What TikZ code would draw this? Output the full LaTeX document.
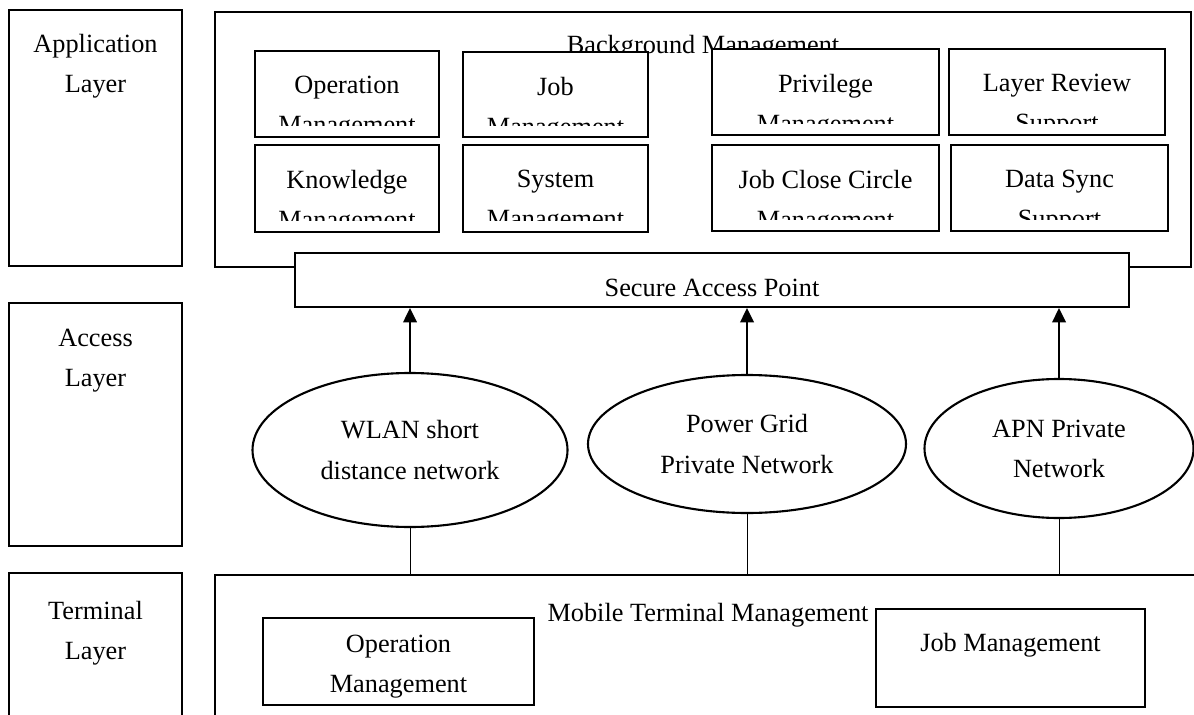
\documentclass[tikz,border=0pt]{standalone}
\usepackage{fontspec}
\setmainfont{Liberation Serif}
\usetikzlibrary{shapes.geometric}
\usetikzlibrary{positioning}
\usetikzlibrary{calc}
\usetikzlibrary{arrows.meta}
\newcommand{\px}{0.025cm}
\tikzset{every picture/.style={line width=1.5pt},
  every node/.style={font=\fontsize{18.7pt}{28.5pt}\selectfont,align=center,inner sep=0pt},
  framebox/.style={draw,fill=white},
  netellipse/.style={draw,ellipse,fill=white},
  uparrow/.style={-{Triangle[length=0.36cm,width=0.34cm]},line width=1.5pt},
  thinline/.style={line width=0.7pt}}

\begin{document}
\begin{tikzpicture}[x=\px,y=-\px]
\useasboundingbox (0,0) rectangle (1194,715);

% layer column
\node (applayer) [framebox,minimum width=173*\px,minimum height=256*\px] at (95.5,138) {};
\node (applbl) at ($(applayer.north)+(0,57)$) {Application\\Layer};
\node (acclayer) [framebox,minimum width=173*\px,minimum height=243*\px] at (95.5,424.5) {};
\node (acclbl) at ($(acclayer.north)+(0,59)$) {Access\\Layer};
\node (termlayer) [framebox,minimum width=173*\px,minimum height=167*\px] at (95.5,656.5) {};
\node (termlbl) at ($(termlayer.north)+(0,61)$) {Terminal\\Layer};

% background management
\node (bgbox) [framebox,minimum width=976*\px,minimum height=255*\px] at (703,139.5) {};
\node (bgtitle) at (703,47) {Background Management};
\foreach \name/\cx/\cy/\w/\h/\ta/\tb in {
  opmgmt/347/94/184/86/Operation/Management,
  jobmgmt/555.5/94.5/185/85/Job/Management,
  privmgmt/825.5/92/227/86/Privilege/Management,
  reviewsup/1057/92/216/86/Layer Review/Support,
  knowmgmt/347/188.5/184/87/Knowledge/Management,
  sysmgmt/555.5/188.5/185/87/System/Management,
  closemgmt/825.5/188/227/86/Job Close Circle/Management,
  syncsup/1059.5/188/217/86/Data Sync/Support} {
\node (\name) [framebox,minimum width=\w*\px,minimum height=\h*\px] at (\cx,\cy) {};
\begin{scope}
\clip (\name.north west) rectangle ($(\name.south east)+(0,-13)$);
\node (\name lbl) at ($(\name.north)+(0,58)$) {\ta\\\tb};
\end{scope}
}

% access
\node (sap) [framebox,minimum width=834*\px,minimum height=54*\px] at (712,280) {};
\node (saplbl) at (712,288) {Secure Access Point};
\node (wlan) [netellipse,minimum width=315*\px,minimum height=154*\px] at (410,450) {WLAN short\\distance network};
\node (powergrid) [netellipse,minimum width=318*\px,minimum height=138*\px] at (747,444) {Power Grid\\Private Network};
\node (apn) [netellipse,minimum width=269*\px,minimum height=139*\px] at (1059,448.5) {APN Private\\Network};

% terminal
\node (mtbox) [framebox,minimum width=1000*\px,minimum height=165*\px] at (715,657.5) {};
\node (mttitle) at (708,615) {Mobile Terminal Management};
\node (topmgmt) [framebox,minimum width=271*\px,minimum height=87*\px] at (398.5,661.5) {};
\node (topmgmtlbl) at ($(topmgmt.center)+(0,5)$) {Operation\\Management};
\node (tjobmgmt) [framebox,minimum width=269*\px,minimum height=98*\px] at (1010.5,658) {};
\node (tjoblbl) at ($(tjobmgmt.north)+(0,37)$) {Job Management};

% connectors
\foreach \net in {wlan,powergrid,apn} {
\draw [uparrow] (\net.north) -- (\net.north |- sap.south);
\draw [thinline] (\net.south) -- (\net.south |- mtbox.north);
}
\end{tikzpicture}
\end{document}
